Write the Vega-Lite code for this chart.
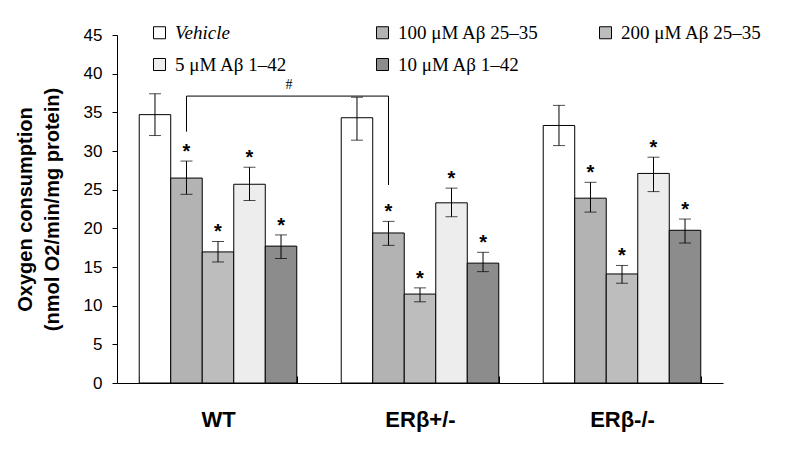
{
  "$schema": "https://vega.github.io/schema/vega-lite/v6.json",
  "width": 606,
  "height": 348,
  "autosize": {"type": "none"},
  "padding": {"left": 117, "top": 35, "right": 77, "bottom": 66},
  "background": "white",
  "config": {
    "view": {"stroke": null},
    "axis": {"labelFont": "Liberation Sans", "titleFont": "Liberation Sans", "domainColor": "black", "tickColor": "black", "labelColor": "black", "titleColor": "black", "grid": false, "domainWidth": 1, "tickWidth": 1},
    "axisY": {"titleFontSize": 20, "titleFontWeight": "bold", "titleLineHeight": 27, "titlePadding": 21, "labelFontSize": 17, "labelPadding": 10, "tickSize": 5, "labelOverlap": false}
  },
  "datasets": {
    "bars": [
      {"genotype": "WT", "treatment": "Vehicle", "value": 34.7, "lo": 32.0, "hi": 37.4, "sig": ""},
      {"genotype": "WT", "treatment": "100 μM Aβ 25–35", "value": 26.5, "lo": 24.4, "hi": 28.7, "sig": "*"},
      {"genotype": "WT", "treatment": "200 μM Aβ 25–35", "value": 16.95, "lo": 15.65, "hi": 18.3, "sig": "*"},
      {"genotype": "WT", "treatment": "5 μM Aβ 1–42", "value": 25.7, "lo": 23.6, "hi": 27.9, "sig": "*"},
      {"genotype": "WT", "treatment": "10 μM Aβ 1–42", "value": 17.7, "lo": 16.1, "hi": 19.15, "sig": "*"},
      {"genotype": "ERβ+/-", "treatment": "Vehicle", "value": 34.3, "lo": 31.4, "hi": 36.95, "sig": ""},
      {"genotype": "ERβ+/-", "treatment": "100 μM Aβ 25–35", "value": 19.4, "lo": 17.8, "hi": 20.9, "sig": "*"},
      {"genotype": "ERβ+/-", "treatment": "200 μM Aβ 25–35", "value": 11.5, "lo": 10.5, "hi": 12.3, "sig": "*"},
      {"genotype": "ERβ+/-", "treatment": "5 μM Aβ 1–42", "value": 23.3, "lo": 21.5, "hi": 25.2, "sig": "*"},
      {"genotype": "ERβ+/-", "treatment": "10 μM Aβ 1–42", "value": 15.5, "lo": 14.4, "hi": 16.9, "sig": "*"},
      {"genotype": "ERβ-/-", "treatment": "Vehicle", "value": 33.3, "lo": 30.7, "hi": 35.9, "sig": ""},
      {"genotype": "ERβ-/-", "treatment": "100 μM Aβ 25–35", "value": 23.9, "lo": 22.1, "hi": 25.95, "sig": "*"},
      {"genotype": "ERβ-/-", "treatment": "200 μM Aβ 25–35", "value": 14.1, "lo": 12.9, "hi": 15.2, "sig": "*"},
      {"genotype": "ERβ-/-", "treatment": "5 μM Aβ 1–42", "value": 27.1, "lo": 24.75, "hi": 29.2, "sig": "*"},
      {"genotype": "ERβ-/-", "treatment": "10 μM Aβ 1–42", "value": 19.75, "lo": 18.1, "hi": 21.2, "sig": "*"}
    ],
    "bracket": [
      {"genotype": "WT", "treatment": "100 μM Aβ 25–35", "y": 32.5, "ord": 1},
      {"genotype": "WT", "treatment": "100 μM Aβ 25–35", "y": 37.1, "ord": 2},
      {"genotype": "ERβ+/-", "treatment": "100 μM Aβ 25–35", "y": 37.1, "ord": 3},
      {"genotype": "ERβ+/-", "treatment": "100 μM Aβ 25–35", "y": 25.6, "ord": 4}
    ],
    "hash": [
      {"genotype": "WT", "treatment": "10 μM Aβ 1–42", "y": 37.1, "label": "#"}
    ]
  },
  "layer": [
    {
      "data": {"name": "bars"},
      "mark": {"type": "bar", "stroke": "black", "strokeWidth": 1},
      "encoding": {
        "x": {"field": "genotype", "type": "nominal", "scale": {"domain": ["WT", "ERβ+/-", "ERβ-/-"], "paddingInner": 0.22, "paddingOuter": 0.11},
          "axis": {"title": null, "labelAngle": 0, "labelFontSize": 22, "labelFontWeight": "bold", "labelPadding": 33, "tickSize": -7, "tickBand": "extent"}},
        "xOffset": {"field": "treatment", "type": "nominal", "scale": {"domain": ["Vehicle", "100 μM Aβ 25–35", "200 μM Aβ 25–35", "5 μM Aβ 1–42", "10 μM Aβ 1–42"], "paddingInner": 0, "paddingOuter": 0}},
        "y": {"field": "value", "type": "quantitative", "scale": {"domain": [0, 45], "nice": false},
          "axis": {"title": ["Oxygen consumption", "(nmol O2/min/mg protein)"], "values": [0, 5, 10, 15, 20, 25, 30, 35, 40, 45]}},
        "fill": {"field": "treatment", "type": "nominal",
          "scale": {"domain": ["Vehicle", "100 μM Aβ 25–35", "200 μM Aβ 25–35", "5 μM Aβ 1–42", "10 μM Aβ 1–42"], "range": ["#ffffff", "#b3b3b3", "#bdbdbd", "#ededed", "#8c8c8c"]},
          "legend": {"title": null, "orient": "none", "legendX": 33, "legendY": -12, "direction": "horizontal", "columns": 3, "gridAlign": "all", "columnPadding": 57, "rowPadding": 12, "symbolType": "square", "symbolSize": 144, "symbolStrokeColor": "black", "symbolStrokeWidth": 1, "labelFont": "Liberation Serif", "labelFontSize": 19, "labelColor": "black", "labelOffset": 6, "labelLimit": 300, "padding": 0,
            "encode": {"labels": {"update": {"fontStyle": {"signal": "datum.label === 'Vehicle' ? 'italic' : 'normal'"}}}}}}
      }
    },
    {
      "data": {"name": "bars"},
      "mark": {"type": "rule", "color": "black", "strokeWidth": 1},
      "encoding": {
        "x": {"field": "genotype", "type": "nominal", "scale": {"domain": ["WT", "ERβ+/-", "ERβ-/-"]}},
        "xOffset": {"field": "treatment", "type": "nominal", "scale": {"domain": ["Vehicle", "100 μM Aβ 25–35", "200 μM Aβ 25–35", "5 μM Aβ 1–42", "10 μM Aβ 1–42"]}},
        "y": {"field": "lo", "type": "quantitative", "axis": {"title": ["Oxygen consumption", "(nmol O2/min/mg protein)"], "values": [0, 5, 10, 15, 20, 25, 30, 35, 40, 45]}},
        "y2": {"field": "hi"}
      }
    },
    {
      "data": {"name": "bars"},
      "mark": {"type": "tick", "color": "black", "orient": "horizontal", "size": 12, "thickness": 1},
      "encoding": {
        "x": {"field": "genotype", "type": "nominal", "scale": {"domain": ["WT", "ERβ+/-", "ERβ-/-"]}},
        "xOffset": {"field": "treatment", "type": "nominal", "scale": {"domain": ["Vehicle", "100 μM Aβ 25–35", "200 μM Aβ 25–35", "5 μM Aβ 1–42", "10 μM Aβ 1–42"]}},
        "y": {"field": "hi", "type": "quantitative", "axis": {"title": ["Oxygen consumption", "(nmol O2/min/mg protein)"], "values": [0, 5, 10, 15, 20, 25, 30, 35, 40, 45]}}
      }
    },
    {
      "data": {"name": "bars"},
      "mark": {"type": "tick", "color": "black", "orient": "horizontal", "size": 12, "thickness": 1},
      "encoding": {
        "x": {"field": "genotype", "type": "nominal", "scale": {"domain": ["WT", "ERβ+/-", "ERβ-/-"]}},
        "xOffset": {"field": "treatment", "type": "nominal", "scale": {"domain": ["Vehicle", "100 μM Aβ 25–35", "200 μM Aβ 25–35", "5 μM Aβ 1–42", "10 μM Aβ 1–42"]}},
        "y": {"field": "lo", "type": "quantitative", "axis": {"title": ["Oxygen consumption", "(nmol O2/min/mg protein)"], "values": [0, 5, 10, 15, 20, 25, 30, 35, 40, 45]}}
      }
    },
    {
      "data": {"name": "bars"},
      "mark": {"type": "text", "font": "Liberation Sans", "fontWeight": "bold", "fontSize": 20, "color": "black", "baseline": "alphabetic", "dy": -3},
      "encoding": {
        "x": {"field": "genotype", "type": "nominal", "scale": {"domain": ["WT", "ERβ+/-", "ERβ-/-"]}},
        "xOffset": {"field": "treatment", "type": "nominal", "scale": {"domain": ["Vehicle", "100 μM Aβ 25–35", "200 μM Aβ 25–35", "5 μM Aβ 1–42", "10 μM Aβ 1–42"]}},
        "y": {"field": "hi", "type": "quantitative", "axis": {"title": ["Oxygen consumption", "(nmol O2/min/mg protein)"], "values": [0, 5, 10, 15, 20, 25, 30, 35, 40, 45]}},
        "text": {"field": "sig"}
      }
    },
    {
      "data": {"name": "bracket"},
      "mark": {"type": "line", "color": "black", "strokeWidth": 1},
      "encoding": {
        "x": {"field": "genotype", "type": "nominal", "scale": {"domain": ["WT", "ERβ+/-", "ERβ-/-"]}},
        "xOffset": {"field": "treatment", "type": "nominal", "scale": {"domain": ["Vehicle", "100 μM Aβ 25–35", "200 μM Aβ 25–35", "5 μM Aβ 1–42", "10 μM Aβ 1–42"]}},
        "y": {"field": "y", "type": "quantitative", "axis": {"title": ["Oxygen consumption", "(nmol O2/min/mg protein)"], "values": [0, 5, 10, 15, 20, 25, 30, 35, 40, 45]}},
        "order": {"field": "ord"}
      }
    },
    {
      "data": {"name": "hash"},
      "mark": {"type": "text", "font": "Liberation Serif", "fontSize": 14, "color": "black", "dx": 8, "dy": -11},
      "encoding": {
        "x": {"field": "genotype", "type": "nominal", "scale": {"domain": ["WT", "ERβ+/-", "ERβ-/-"]}},
        "xOffset": {"field": "treatment", "type": "nominal", "scale": {"domain": ["Vehicle", "100 μM Aβ 25–35", "200 μM Aβ 25–35", "5 μM Aβ 1–42", "10 μM Aβ 1–42"]}},
        "y": {"field": "y", "type": "quantitative", "axis": {"title": ["Oxygen consumption", "(nmol O2/min/mg protein)"], "values": [0, 5, 10, 15, 20, 25, 30, 35, 40, 45]}},
        "text": {"field": "label"}
      }
    }
  ]
}
